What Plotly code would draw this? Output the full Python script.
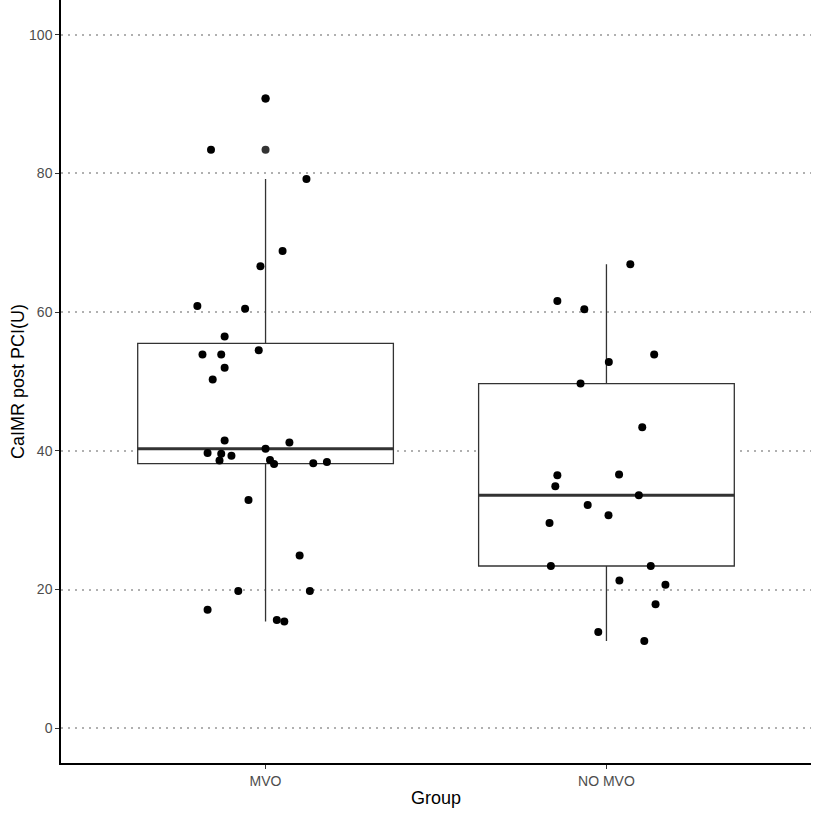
import numpy as np
import plotly.graph_objects as go

# CaIMR post PCI values, with the jitter offsets (in category units)
groups = ["MVO", "NO MVO"]

mvo_values = [90.8, 83.4, 79.2, 68.8, 66.6, 60.9, 60.5, 56.5, 53.9, 53.9, 54.5,
              52.0, 50.3, 41.5, 41.2, 40.3, 39.7, 39.6, 39.3, 38.6, 38.7, 38.1,
              38.2, 38.4, 32.9, 24.9, 19.8, 19.8, 17.1, 15.6, 15.4]
mvo_jitter = [0.0, -0.16, 0.12, 0.05, -0.015, -0.20, -0.06, -0.12, -0.185, -0.13, -0.02,
              -0.12, -0.155, -0.12, 0.07, 0.0, -0.17, -0.13, -0.10, -0.135, 0.013, 0.025,
              0.14, 0.18, -0.05, 0.10, -0.08, 0.13, -0.17, 0.033, 0.055]

nomvo_values = [66.9, 61.6, 60.4, 53.9, 52.8, 49.7, 43.4, 36.6, 36.5, 34.9, 33.6,
                32.2, 30.7, 29.6, 23.4, 23.4, 21.3, 20.7, 17.9, 13.9, 12.6]
nomvo_jitter = [0.07, -0.144, -0.065, 0.14, 0.007, -0.076, 0.105, 0.037, -0.144, -0.15, 0.095,
                -0.055, 0.006, -0.167, -0.163, 0.13, 0.038, 0.173, 0.144, -0.024, 0.111]

yticks = [0, 20, 40, 60, 80, 100]

font = "Liberation Sans, Arial, sans-serif"
box_w = 0.75

fig = go.Figure()

for i, (vals, jit) in enumerate([(mvo_values, mvo_jitter), (nomvo_values, nomvo_jitter)]):
    xc = i + 1
    # 'inclusive' gives the same hinges as R's default quantiles for these group sizes
    fig.add_trace(go.Box(
        x=[xc] * len(vals), y=vals, width=box_w,
        boxpoints="outliers", quartilemethod="inclusive",
        fillcolor="white", line=dict(color="#333333", width=1.3),
        whiskerwidth=0,
        marker=dict(color="#333333", size=8, line=dict(width=0)),
        showlegend=False, hoverinfo="y",
    ))
    # thicker median line like ggplot
    med = float(np.median(vals))
    fig.add_trace(go.Scatter(
        x=[xc - box_w / 2, xc + box_w / 2], y=[med, med], mode="lines",
        line=dict(color="#333333", width=3), showlegend=False, hoverinfo="skip",
    ))
    fig.add_trace(go.Scatter(
        x=[xc + j for j in jit], y=vals, mode="markers",
        marker=dict(color="black", size=8, line=dict(width=0)),
        showlegend=False,
    ))

fig.update_layout(
    width=813, height=813,
    margin=dict(l=61, r=2, t=0, b=50),
    plot_bgcolor="white", paper_bgcolor="white",
    font=dict(family=font, color="black"),
)
fig.update_xaxes(
    range=[0.4, 2.6], tickvals=[1, 2], ticktext=groups,
    showgrid=False, zeroline=False,
    showline=True, linecolor="black", linewidth=1.5,
    ticks="outside", ticklen=4, tickcolor="#333333",
    tickfont=dict(size=14, color="#4d4d4d"),
    title=dict(text="Group", font=dict(size=18, color="black"), standoff=4),
)
fig.update_yaxes(
    range=[-5, 105], tickvals=yticks,
    showgrid=True, gridcolor="#b0b0b0", gridwidth=1.5, griddash="1.5px,5.5px",
    zeroline=False,
    showline=True, linecolor="black", linewidth=1.5,
    ticks="outside", ticklen=4, tickcolor="#333333",
    tickfont=dict(size=14, color="#4d4d4d"),
    title=dict(text="CaIMR post PCI(U)", font=dict(size=18, color="black"), standoff=0),
)

fig.write_html("out.html", config={"displayModeBar": False},
               post_script="document.body.style.margin='0';")
